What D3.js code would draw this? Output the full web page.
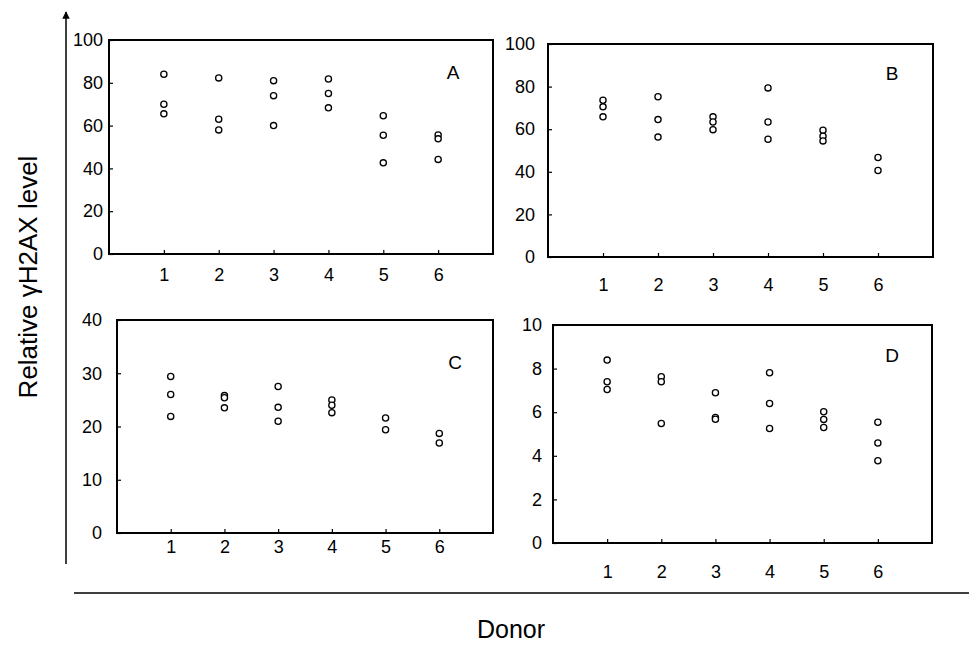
<!DOCTYPE html>
<html>
<head>
<meta charset="utf-8">
<script src="https://cdn.jsdelivr.net/npm/d3@7"></script>
<style>
  body { margin: 0; background: #fff; }
  svg { font-family: "Liberation Sans", Arial, sans-serif; }
</style>
</head>
<body>
<div id="chart"></div>
<script>
// donors on the x axis
const donors = [1, 2, 3, 4, 5, 6];

// three replicate values per donor
const valuesA = [[84, 70, 65.5], [82.3, 63, 58], [81, 74, 60], [81.8, 75, 68.3], [64.6, 55.5, 42.6], [55.6, 53.8, 44.2]];
const valuesB = [[73.6, 70.5, 65.8], [75.2, 64.5, 56.3], [65.8, 63.4, 59.8], [79.4, 63.4, 55.3], [59.5, 56.7, 54.5], [46.7, 40.6]];
const valuesC = [[29.4, 26, 21.9], [25.8, 25.4, 23.5], [27.5, 23.6, 21], [25, 24, 22.6], [21.6, 19.4], [18.7, 16.9]];
const valuesD = [[8.39, 7.4, 7.04], [7.63, 7.4, 5.48], [6.89, 5.76, 5.68], [7.81, 6.4, 5.25], [6.02, 5.67, 5.3], [5.54, 4.59, 3.77]];

const ticksAB = [0, 20, 40, 60, 80, 100];
const ticksC = [0, 10, 20, 30, 40];
const ticksD = [0, 2, 4, 6, 8, 10];

const panelLabels = ["A", "B", "C", "D"];

const yTitle = "Relative \u03b3H2AX level";
const xTitle = "Donor";

const width = 969;
const height = 649;

const svg = d3.select("#chart")
    .append("svg")
    .attr("width", width)
    .attr("height", height);

// panel boxes (pixel frames) and label offsets
const panels = [
    { name: panelLabels[0], values: valuesA, ticks: ticksAB, x0: 109, x1: 493, y0: 40, y1: 254, xPad: 14, yPad: 6, lx: 453, ly: 72 },
    { name: panelLabels[1], values: valuesB, ticks: ticksAB, x0: 548, x1: 933, y0: 44, y1: 257, xPad: 21, yPad: 13, lx: 892, ly: 73 },
    { name: panelLabels[2], values: valuesC, ticks: ticksC, x0: 117, x1: 493, y0: 320, y1: 533, xPad: 7, yPad: 15, lx: 455, ly: 362 },
    { name: panelLabels[3], values: valuesD, ticks: ticksD, x0: 553, x1: 932, y0: 325, y1: 543, xPad: 22, yPad: 11, lx: 892, ly: 355 }
];

panels.forEach(p => {
    const x = d3.scaleLinear().domain([0, 7]).range([p.x0, p.x1]);
    const y = d3.scaleLinear().domain([0, d3.max(p.ticks)]).range([p.y1, p.y0]);

    const g = svg.append("g");

    // x axis
    const xAxis = g.append("g")
        .attr("transform", `translate(0, ${p.y1})`)
        .call(d3.axisBottom(x).tickValues(donors).tickFormat(d3.format("d"))
            .tickSizeInner(-4).tickSizeOuter(0).tickPadding(p.xPad));
    // y axis
    const yAxis = g.append("g")
        .attr("transform", `translate(${p.x0}, 0)`)
        .call(d3.axisLeft(y).tickValues(p.ticks).tickFormat(d3.format("d"))
            .tickSizeInner(-4).tickSizeOuter(0).tickPadding(p.yPad));

    [xAxis, yAxis].forEach(a => {
        a.select(".domain").remove();
        a.selectAll("line").attr("stroke", "#000").attr("stroke-width", 1.2);
        a.selectAll("text")
            .attr("fill", "#000")
            .style("font-size", "18px");
    });

    // frame
    g.append("rect")
        .attr("x", p.x0)
        .attr("y", p.y0)
        .attr("width", p.x1 - p.x0)
        .attr("height", p.y1 - p.y0)
        .attr("fill", "none")
        .attr("stroke", "#000")
        .attr("stroke-width", 2);

    // points
    const pts = [];
    p.values.forEach((vals, i) => vals.forEach(v => pts.push({ d: donors[i], v: v })));
    g.selectAll("circle")
        .data(pts)
        .enter()
        .append("circle")
        .attr("cx", d => x(d.d))
        .attr("cy", d => y(d.v))
        .attr("r", 3.1)
        .attr("fill", "#fff")
        .attr("stroke", "#000")
        .attr("stroke-width", 1.3);

    // panel letter
    g.append("text")
        .attr("x", p.lx)
        .attr("y", p.ly)
        .attr("dy", "0.35em")
        .attr("text-anchor", "middle")
        .style("font-size", "19px")
        .text(p.name);
});

// big y arrow
svg.append("defs").append("marker")
    .attr("id", "arrow")
    .attr("viewBox", "0 0 10 10")
    .attr("refX", 9)
    .attr("refY", 5)
    .attr("markerWidth", 5)
    .attr("markerHeight", 6)
    .attr("orient", "auto")
    .append("path")
    .attr("d", "M0,0 L10,5 L0,10 z")
    .attr("fill", "#000");

svg.append("line")
    .attr("x1", 66).attr("y1", 564)
    .attr("x2", 66).attr("y2", 12)
    .attr("stroke", "#000")
    .attr("stroke-width", 1.5)
    .attr("marker-end", "url(#arrow)");

// bottom rule
svg.append("line")
    .attr("x1", 74).attr("y1", 593)
    .attr("x2", 969).attr("y2", 593)
    .attr("stroke", "#000")
    .attr("stroke-width", 1.5);

svg.append("text")
    .attr("transform", "translate(37, 277) rotate(-90)")
    .attr("text-anchor", "middle")
    .style("font-size", "26px")
    .text(yTitle);

svg.append("text")
    .attr("x", 511)
    .attr("y", 638)
    .attr("text-anchor", "middle")
    .style("font-size", "25px")
    .text(xTitle);
</script>
</body>
</html>
